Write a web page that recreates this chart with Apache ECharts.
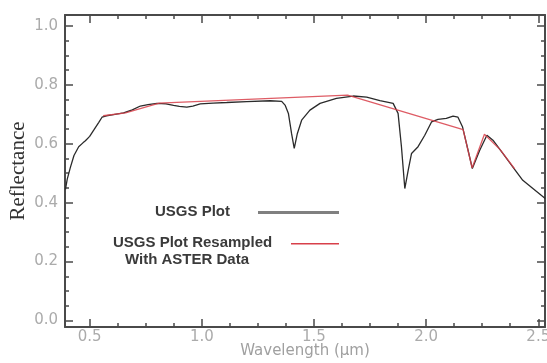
<!DOCTYPE html>
<html>
<head>
<meta charset="utf-8">
<script src="https://cdn.jsdelivr.net/npm/echarts@6/dist/echarts.min.js"></script>
<style>html,body{margin:0;padding:0;background:#fff}#c{width:547px;height:363px}</style>
</head>
<body>
<div id="c"></div>
<script>
// ---- data ----
var usgsWave = [0.392,0.40,0.414,0.43,0.451,0.47,0.481,0.50,0.518,0.54,0.555,0.575,0.60,0.651,0.69,0.726,0.76,0.80,0.84,0.874,0.90,0.933,0.96,0.993,1.05,1.111,1.20,1.305,1.356,1.372,1.386,1.40,1.412,1.426,1.445,1.482,1.527,1.60,1.675,1.735,1.794,1.853,1.875,1.89,1.905,1.92,1.935,1.964,1.994,2.024,2.053,2.09,2.12,2.142,2.162,2.187,2.206,2.239,2.271,2.298,2.342,2.387,2.431,2.476,2.531];
var usgsRefl = [0.445,0.48,0.52,0.56,0.59,0.603,0.61,0.625,0.646,0.672,0.69,0.695,0.698,0.705,0.715,0.728,0.733,0.737,0.735,0.73,0.727,0.724,0.728,0.735,0.738,0.74,0.743,0.746,0.744,0.73,0.703,0.635,0.584,0.635,0.68,0.714,0.737,0.754,0.762,0.758,0.746,0.737,0.703,0.59,0.448,0.51,0.567,0.59,0.629,0.674,0.683,0.686,0.694,0.69,0.658,0.578,0.516,0.578,0.629,0.612,0.567,0.521,0.476,0.448,0.414];
var asterWave = [0.56,0.66,0.81,1.65,2.165,2.205,2.26,2.33,2.395];
var asterRefl = [0.695,0.705,0.738,0.765,0.648,0.518,0.632,0.58,0.515];
var xMajorTicks = [0.5,1.0,1.5,2.0,2.5];
var yMajorTicks = [0.0,0.2,0.4,0.6,0.8,1.0];
var xMinorTicks = [0.5,0.625,0.75,0.875,1.0,1.125,1.25,1.375,1.5,1.625,1.75,1.875,2.0,2.125,2.25,2.375,2.5];
var yMinorTicks = [0,0.05,0.1,0.15,0.2,0.25,0.3,0.35,0.4,0.45,0.5,0.55,0.6,0.65,0.7,0.75,0.8,0.85,0.9,0.95,1.0];
var xTitle = 'Wavelength (μm)';
var yTitle = 'Reflectance';
var legendUSGS = 'USGS Plot';
var legendASTER1 = 'USGS Plot Resampled';
var legendASTER2 = 'With ASTER Data';

var XMIN = 0.39, XMAX = 2.53, YMIN = -0.022, YMAX = 1.037;
var frameColor = '#4a4a4a';
var labelColor = '#ababab';

function pairs(a, b) { return a.map(function (v, i) { return [v, b[i]]; }); }

function mkAxis(kind, pos, ticks, len, showLine, labels, extra) {
  var ax = {
    type: 'value', position: pos,
    min: kind === 'x' ? XMIN : YMIN, max: kind === 'x' ? XMAX : YMAX,
    axisLine: { show: showLine, onZero: false, lineStyle: { color: frameColor, width: 2 } },
    axisTick: { show: true, inside: true, length: len, customValues: ticks, lineStyle: { color: frameColor, width: 1.5 } },
    axisLabel: labels ? {
      show: true, customValues: labels, color: labelColor, fontFamily: 'DejaVu Sans', fontSize: 15,
      margin: kind === 'x' ? 3 : 7,
      formatter: function (v) { return (+v).toFixed(1); }
    } : { show: false },
    splitLine: { show: false }
  };
  for (var k in extra) ax[k] = extra[k];
  return ax;
}

var chart = echarts.init(document.getElementById('c'), null, { renderer: 'canvas' });
chart.setOption({
  animation: false,
  backgroundColor: '#fff',
  grid: { left: 65, right: 2, top: 15, bottom: 36, containLabel: false, outerBoundsMode: 'none' },
  xAxis: [
    mkAxis('x', 'bottom', xMajorTicks, 8, true, xMajorTicks, {
      name: xTitle, nameLocation: 'middle', nameGap: 17, nameMoveOverlap: false,
      nameTextStyle: { color: '#a0a0a0', fontFamily: 'DejaVu Sans', fontSize: 15 }
    }),
    mkAxis('x', 'bottom', xMinorTicks, 4, false, null, {}),
    mkAxis('x', 'top', xMajorTicks, 8, true, null, {}),
    mkAxis('x', 'top', xMinorTicks, 4, false, null, {})
  ],
  yAxis: [
    mkAxis('y', 'left', yMajorTicks, 8, true, yMajorTicks, {
      name: yTitle, nameLocation: 'middle', nameGap: 36, nameRotate: 90, nameMoveOverlap: false,
      nameTextStyle: { color: '#333', fontFamily: 'Liberation Serif', fontSize: 21 }
    }),
    mkAxis('y', 'left', yMinorTicks, 4, false, null, {}),
    mkAxis('y', 'right', yMajorTicks, 8, true, null, {}),
    mkAxis('y', 'right', yMinorTicks, 4, false, null, {})
  ],
  series: [
    {
      name: legendUSGS, type: 'line', xAxisIndex: 0, yAxisIndex: 0,
      data: pairs(usgsWave, usgsRefl), showSymbol: false, smooth: false,
      lineStyle: { color: '#2b2b2b', width: 1.3 }, z: 2
    },
    {
      name: legendASTER1, type: 'line', xAxisIndex: 0, yAxisIndex: 0,
      data: pairs(asterWave, asterRefl), showSymbol: false, smooth: false,
      lineStyle: { color: '#d8404a', width: 1.3, opacity: 0.85 }, z: 3
    }
  ],
  graphic: [
    { type: 'text', left: 155, top: 204, style: { text: legendUSGS, fill: '#3a3a3a', font: 'bold 15px "Liberation Sans", Arial, sans-serif' } },
    { type: 'line', shape: { x1: 258, y1: 212.5, x2: 339, y2: 212.5 }, style: { stroke: '#808080', lineWidth: 3 } },
    { type: 'text', left: 113, top: 235, style: { text: legendASTER1, fill: '#3a3a3a', font: 'bold 15px "Liberation Sans", Arial, sans-serif' } },
    { type: 'line', shape: { x1: 291, y1: 243.7, x2: 339, y2: 243.7 }, style: { stroke: '#d8404a', lineWidth: 1.5 } },
    { type: 'text', left: 125, top: 252, style: { text: legendASTER2, fill: '#3a3a3a', font: 'bold 15px "Liberation Sans", Arial, sans-serif' } }
  ]
});
</script>
</body>
</html>
